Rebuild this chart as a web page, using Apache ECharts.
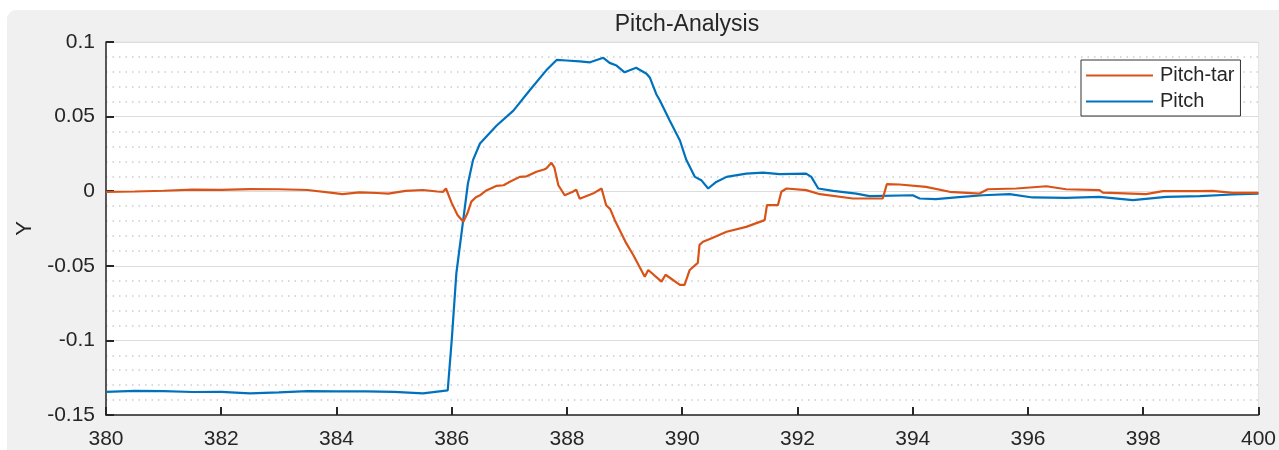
<!DOCTYPE html>
<html>
<head>
<meta charset="utf-8">
<script src="https://cdn.jsdelivr.net/npm/echarts@6/dist/echarts.min.js"></script>
<style>
html,body{margin:0;padding:0;background:#fff;}
#panel{position:absolute;left:7px;top:10px;width:1272px;height:440px;background:#f0f0f0;border-top-left-radius:9px;}
#chart{position:absolute;left:0;top:0;width:1279px;height:450px;}
</style>
</head>
<body>
<div id="panel"></div>
<div id="chart"></div>
<script>
// ---- data ----
const titleText = 'Pitch-Analysis';
const seriesNames = ['Pitch-tar', 'Pitch'];
const yAxisName = 'Y';

const tarX = [380.0,380.5,381.0,381.5,382.0,382.5,383.0,383.5,384.0,384.1,384.4,384.7,384.9,385.2,385.5,385.75,385.85,385.9,386.0,386.1,386.2,386.27,386.34,386.42,386.5,386.6,386.78,386.9,387.0,387.18,387.3,387.47,387.6,387.64,387.73,387.78,387.85,387.96,388.1,388.16,388.22,388.45,388.6,388.68,388.75,388.83,389.03,389.15,389.35,389.41,389.64,389.71,389.96,390.04,390.13,390.27,390.3,390.36,390.51,390.77,391.11,391.43,391.47,391.66,391.72,391.81,392.15,392.39,392.96,393.48,393.55,393.77,394.23,394.64,395.16,395.3,395.8,396.32,396.66,397.24,397.3,398.05,398.34,398.98,399.2,399.55,400.0];
const tarY = [-0.0004,-0.0002,0.0003,0.0011,0.0009,0.0014,0.0013,0.0008,-0.0015,-0.002,-0.0008,-0.0012,-0.0016,0.0002,0.0008,-0.0002,-0.0004,0.0018,-0.008,-0.016,-0.0205,-0.015,-0.007,-0.004,-0.0025,0.0005,0.0036,0.004,0.0062,0.0096,0.010,0.013,0.0145,0.0152,0.019,0.016,0.004,-0.0027,-0.0004,0.001,-0.005,-0.0016,0.0018,-0.0094,-0.012,-0.0194,-0.035,-0.0428,-0.0573,-0.0528,-0.0606,-0.056,-0.0628,-0.0628,-0.0528,-0.048,-0.036,-0.0339,-0.0316,-0.0272,-0.0239,-0.0194,-0.0094,-0.0094,-0.0004,0.0018,0.0007,-0.002,-0.0049,-0.0049,0.0047,0.0045,0.0029,-0.0004,-0.0016,0.0013,0.0018,0.0033,0.0013,0.0007,-0.0009,-0.002,0.0,0.0,0.0002,-0.0011,-0.0011];

const pitchX = [380.0,380.5,381.0,381.5,382.0,382.5,383.0,383.5,384.0,384.5,385.0,385.5,385.93,386.0,386.08,386.2,386.28,386.37,386.49,386.78,387.07,387.35,387.64,387.82,387.99,388.22,388.4,388.63,388.74,388.86,389.0,389.2,389.38,389.44,389.55,389.61,389.78,389.84,389.96,390.07,390.22,390.33,390.45,390.59,390.77,391.11,391.4,391.69,392.15,392.24,392.36,392.62,393.02,393.25,394.0,394.12,394.4,394.8,395.22,395.68,396.08,396.66,397.24,397.82,398.4,398.98,399.55,400.0];
const pitchY = [-0.1345,-0.1338,-0.134,-0.1346,-0.1345,-0.1355,-0.1348,-0.134,-0.1342,-0.1341,-0.1345,-0.1355,-0.1335,-0.0996,-0.055,-0.019,0.005,0.021,0.032,0.044,0.054,0.0675,0.081,0.088,0.0876,0.087,0.0864,0.0894,0.086,0.0842,0.0797,0.0827,0.0787,0.076,0.065,0.061,0.0475,0.043,0.034,0.021,0.0096,0.0074,0.0018,0.0062,0.0096,0.0118,0.0125,0.0114,0.0118,0.0096,0.0018,0.0002,-0.0016,-0.0033,-0.0027,-0.0049,-0.0053,-0.004,-0.0027,-0.002,-0.0042,-0.0045,-0.0038,-0.006,-0.0038,-0.0033,-0.0022,-0.0016];

const xMin = 380, xMax = 400, xStep = 2;
const yMin = -0.15, yMax = 0.1, yStep = 0.05;

const zip = (xs, ys) => xs.map((x, i) => [x, ys[i]]);
const txt = '#262626';
const font = 'Liberation Sans, Arial, sans-serif';

const chart = echarts.init(document.getElementById('chart'), null, {renderer: 'canvas'});
chart.setOption({
  backgroundColor: 'transparent',
  animation: false,
  title: {
    text: titleText, left: 682, textAlign: 'center', top: 8,
    textStyle: {fontFamily: font, fontSize: 23, fontWeight: 'normal', color: txt}
  },
  grid: {
    left: 106, right: 20, top: 42, bottom: 34,
    show: true, backgroundColor: '#ffffff', borderColor: '#e4e4e4', borderWidth: 1
  },
  legend: {
    data: seriesNames, orient: 'vertical', left: 1081, top: 60, z: 20,
    backgroundColor: '#ffffff', borderColor: '#333333', borderWidth: 1, borderRadius: 0,
    padding: [5, 6, 4, 5], itemGap: 5, itemWidth: 67, itemHeight: 2, icon: 'rect',
    textStyle: {fontFamily: font, fontSize: 20, color: txt, lineHeight: 21, padding: [0, 0, 0, 2]}
  },
  xAxis: {
    type: 'value', min: xMin, max: xMax, interval: xStep,
    axisLine: {show: true, onZero: false, lineStyle: {color: txt, width: 1.5}},
    axisTick: {show: true, inside: true, length: 8, lineStyle: {color: txt, width: 2}},
    axisLabel: {fontFamily: font, fontSize: 21, color: txt, margin: 14, showMinLabel: true, showMaxLabel: true},
    splitLine: {show: false},
    z: 5
  },
  yAxis: {
    type: 'value', min: yMin, max: yMax, interval: yStep,
    name: yAxisName, nameLocation: 'middle', nameGap: 68, nameRotate: 90,
    nameTextStyle: {fontFamily: font, fontSize: 22, color: txt},
    axisLine: {show: true, onZero: false, lineStyle: {color: txt, width: 1.5}},
    axisTick: {show: true, inside: true, length: 8, lineStyle: {color: txt, width: 2}},
    axisLabel: {fontFamily: font, fontSize: 21, color: txt, margin: 11,
      formatter: v => String(parseFloat(v.toFixed(2)))},
    splitLine: {show: true, lineStyle: {color: '#dcdcdc', width: 1.2}},
    minorTick: {show: false, splitNumber: 5},
    minorSplitLine: {show: true, lineStyle: {color: '#cdcdcd', width: 1.5, type: [1.5, 5]}},
    z: 1
  },
  series: [
    {name: seriesNames[0], type: 'line', data: zip(tarX, tarY), symbol: 'none',
     lineStyle: {color: '#D95319', width: 2.2}, itemStyle: {color: '#D95319'}, z: 3},
    {name: seriesNames[1], type: 'line', data: zip(pitchX, pitchY), symbol: 'none',
     lineStyle: {color: '#0072BD', width: 2.2}, itemStyle: {color: '#0072BD'}, z: 2}
  ]
});
</script>
</body>
</html>
